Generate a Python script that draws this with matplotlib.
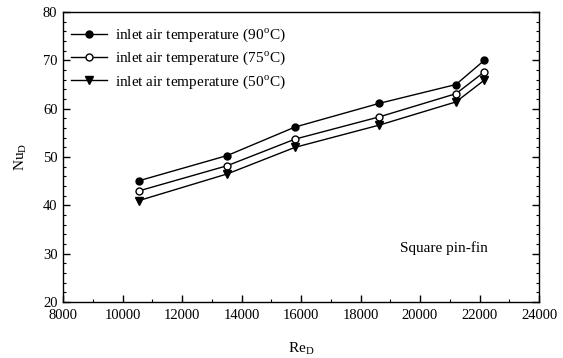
import matplotlib
matplotlib.use("Agg")
import matplotlib.pyplot as plt
from matplotlib.ticker import MultipleLocator

plt.rcParams['font.family'] = ['Liberation Serif', 'DejaVu Serif']
plt.rcParams['mathtext.fontset'] = 'stix'

re_d = [10560, 13520, 15800, 18630, 21210, 22160]
nu_90 = [45.1, 50.3, 56.2, 61.1, 65.0, 70.0]
nu_75 = [43.0, 48.2, 53.7, 58.3, 63.1, 67.6]
nu_50 = [41.0, 46.5, 52.0, 56.6, 61.4, 65.9]
labels = ['inlet air temperature (90$^\\mathregular{o}$C)',
          'inlet air temperature (75$^\\mathregular{o}$C)',
          'inlet air temperature (50$^\\mathregular{o}$C)']

fig = plt.figure(figsize=(5.63, 3.58), dpi=100)
ax = fig.add_axes([63/563, 1-302/358, (539-63)/563, (302-12)/358])

ax.plot(re_d, nu_90, '-o', color='black', lw=1.0, ms=5, mfc='black', label=labels[0])
ax.plot(re_d, nu_75, '-o', color='black', lw=1.0, ms=5, mfc='white', label=labels[1])
ax.plot(re_d, nu_50, '-v', color='black', lw=1.0, ms=5.5, mfc='black', label=labels[2])

ax.set_xlim(8000, 24000)
ax.set_ylim(20, 80)
ax.xaxis.set_major_locator(MultipleLocator(2000))
ax.xaxis.set_minor_locator(MultipleLocator(1000))
ax.yaxis.set_major_locator(MultipleLocator(10))
ax.yaxis.set_minor_locator(MultipleLocator(2))
ax.tick_params(which='both', direction='in', right=True, top=False, labelsize=10.5)
ax.tick_params(axis='x', pad=5)
ax.tick_params(axis='y', pad=4)
ax.tick_params(which='major', length=5, width=1)
ax.tick_params(which='minor', length=2.5, width=0.8)
for s in ax.spines.values():
    s.set_linewidth(1.0)

ax.set_xlabel('Re$_\\mathregular{D}$', fontsize=11, labelpad=14)
ax.set_ylabel('Nu$_\\mathregular{D}$', fontsize=11, labelpad=10)

ax.text(19330, 31.2, 'Square pin-fin', fontsize=11, va='center', ha='left')

ax.legend(loc='upper left', bbox_to_anchor=(0.0, 0.975), frameon=False,
          fontsize=11, handlelength=2.4, handletextpad=0.5, labelspacing=0.38,
          borderaxespad=0.1)

fig.savefig('out.png', dpi=100)
